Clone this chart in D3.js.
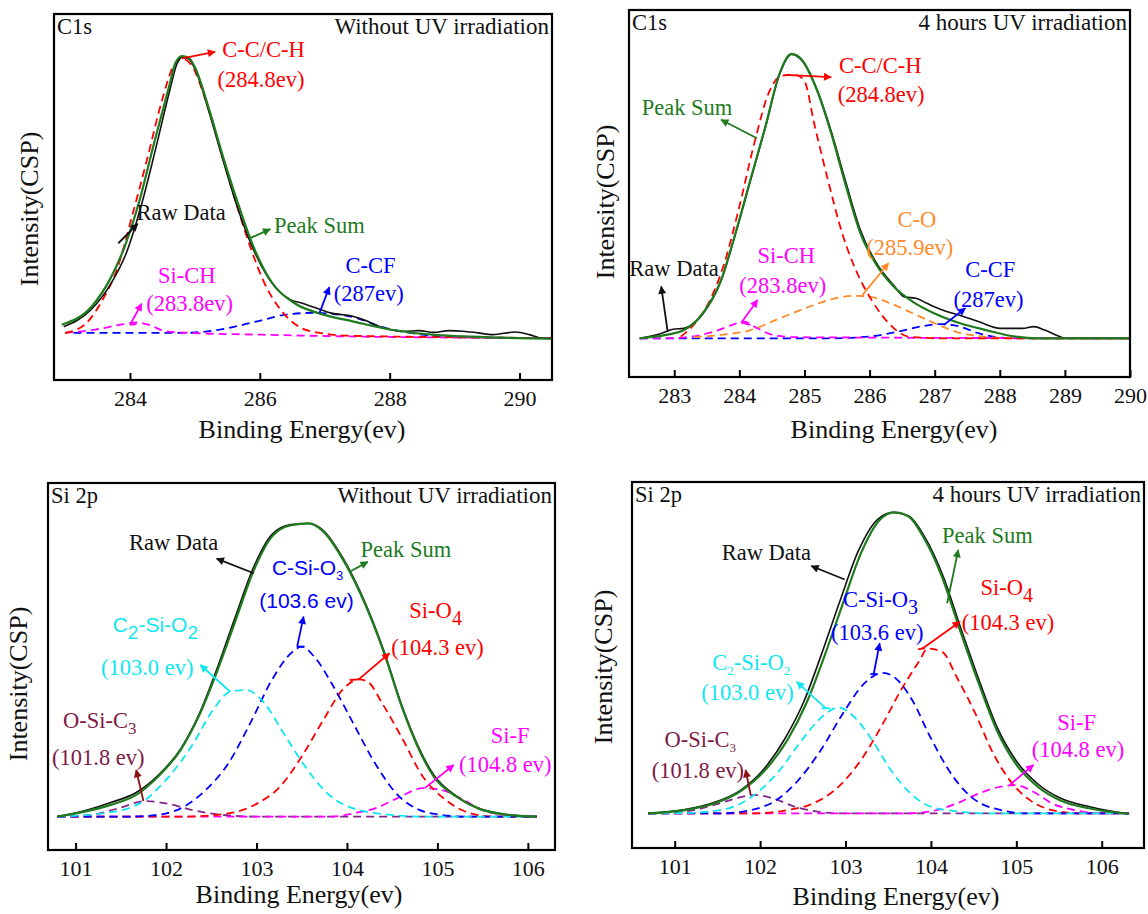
<!DOCTYPE html>
<html>
<head>
<meta charset="utf-8">
<script src="https://cdn.jsdelivr.net/npm/d3@7"></script>
<style>
  body { margin: 0; background: #fff; }
  svg { display: block; }
</style>
</head>
<body>
<div id="chart"></div>
<script>
// ---- C1s, without UV  ([binding energy, intensity])
var c1aRaw = [[282.98,4.0],[283.4,10.0],[283.7,19.0],[283.95,30.5],[284.18,47.5],[284.4,67.5],[284.62,88.5],[284.72,97],[284.8,99.6],[284.9,99],[285.0,95.5],[285.22,80],[285.44,62.5],[285.66,46],[285.88,32.5],[286.1,22.5],[286.3,16.5],[286.47,13.6],[286.64,12.4],[286.87,10.6],[287.09,8.9],[287.43,7.7],[287.66,5.9],[287.77,4.7],[288.0,3.0],[288.23,2.4],[288.45,2.6],[288.68,2.0],[288.91,2.6],[289.13,2.4],[289.36,1.8],[289.59,1.2],[289.93,2.1],[290.15,1.2],[290.32,0],[290.49,-0.2]];
var c1aSum = [[282.95,4.7],[283.41,11.2],[283.69,20.7],[283.92,32.5],[284.15,49],[284.37,69],[284.6,89],[284.7,97.5],[284.8,100],[284.9,99.5],[285.0,96],[285.22,81],[285.45,63],[285.68,46.6],[285.9,32.5],[286.19,19.5],[286.53,12.4],[286.98,8.3],[287.43,5.9],[288.0,3],[288.79,0.9],[290.49,-0.2]];
var c1aCC = [[283.0,1.8],[283.3,4.7],[283.58,13.6],[283.81,25],[284.03,43],[284.26,63],[284.49,84],[284.66,96],[284.8,99],[284.94,97],[285.17,84],[285.39,67],[285.62,49],[285.85,32.5],[286.07,19.5],[286.36,8.9],[286.64,3.5],[286.92,1.8],[287.38,0.8],[290.49,0]];
var c1aSiCH = [[283.0,1.8],[283.47,3.0],[283.86,4.7],[284.1,5.5],[284.3,4.6],[284.54,2.4],[284.94,1.8],[285.96,1.2],[287.5,0.5],[290.49,0]];
var c1aCCF = [[283.13,1.8],[284.83,1.8],[285.39,3.0],[285.96,5.9],[286.41,8.3],[286.81,8.9],[287.38,7.7],[287.94,3.5],[288.5,1.2],[289.2,0.2],[290.49,0]];

// ---- C1s, 4 hours UV
var c1bRaw = [[282.47,0],[282.81,1.8],[282.98,3.2],[283.15,3.5],[283.27,4.7],[283.44,8.6],[283.72,20.3],[283.94,36.7],[284.17,55.5],[284.4,74.2],[284.62,93],[284.8,99.8],[284.96,97.7],[285.19,87.6],[285.41,72.8],[285.64,54.5],[285.86,38],[286.09,27],[286.37,18.6],[286.54,14.5],[286.71,14.1],[286.88,12.3],[287.11,10],[287.45,7.6],[287.67,5.9],[288.01,3.5],[288.35,3.5],[288.52,4.1],[288.69,2.9],[288.92,0.6],[289.0,0],[290.0,0]];
var c1bSum = [[282.47,0],[282.87,1.2],[283.15,2.9],[283.44,8.8],[283.72,20.5],[283.94,36.9],[284.17,55.7],[284.4,74.4],[284.62,93.2],[284.8,100],[284.96,97.9],[285.19,87.3],[285.41,72.1],[285.64,53.3],[285.86,36.9],[286.09,26.4],[286.37,18.2],[286.66,12.9],[286.99,8.8],[287.39,5.3],[287.79,2.9],[288.24,0.6],[288.58,0],[290.0,0]];
var c1bCC = [[283.1,0.6],[283.32,5.3],[283.55,13.5],[283.77,26.4],[284.0,46.3],[284.23,68.6],[284.45,86.2],[284.65,92.3],[284.85,92.6],[284.99,90.9],[285.16,74.4],[285.36,55.7],[285.58,36.9],[285.81,22.9],[286.03,13.5],[286.32,4.7],[286.6,0.6],[287.1,0],[290.0,0]];
var c1bCO = [[283.3,0.4],[283.72,1.2],[284.17,2.9],[284.62,7],[285.07,11.1],[285.41,13.7],[285.75,14.9],[285.98,14.7],[286.32,12.3],[286.66,8.8],[287.0,5.3],[287.33,2.3],[287.67,0.8],[288.2,0],[290.0,0]];
var c1bSiCH = [[282.47,0],[282.87,0],[283.27,0.6],[283.6,2.3],[283.89,4.7],[284.06,5.9],[284.28,3.5],[284.51,1.2],[284.85,0.4],[290.0,0]];
var c1bCCF = [[282.47,0],[285.41,0],[285.98,0.6],[286.43,2.3],[286.82,4.3],[287.1,5.0],[287.39,4.1],[287.67,1.8],[287.95,0.4],[288.3,0],[290.0,0]];

// ---- Si 2p, without UV
var siaRaw = [[100.8,0],[101.1,2.0],[101.39,4.8],[101.67,8.2],[101.91,14.0],[102.16,23.0],[102.36,34.5],[102.57,51],[102.77,68.5],[102.97,85.2],[103.17,96.2],[103.38,99.6],[103.58,100],[103.74,97.6],[103.95,88.5],[104.15,76.5],[104.42,55.5],[104.6,38.5],[104.78,24.5],[104.96,14.2],[105.21,7.0],[105.45,2.9],[105.78,0.6],[106.1,0]];
var siaSum = [[100.8,0],[101.1,1.7],[101.39,4],[101.67,7.4],[101.91,13.6],[102.16,22.7],[102.36,34.1],[102.57,50],[102.77,67],[102.97,84],[103.17,95.5],[103.38,99.4],[103.58,100],[103.74,97.2],[103.95,88],[104.15,76],[104.42,55],[104.6,38],[104.78,24],[104.96,13.6],[105.21,6.8],[105.45,2.8],[105.78,0.6],[106.1,0]];
var siaC2SiO2 = [[100.8,0],[101.3,1.1],[101.71,4.5],[102.0,12.5],[102.28,23.9],[102.52,36.4],[102.71,42.6],[102.89,43.2],[103.09,38.6],[103.3,28.4],[103.54,17],[103.78,8],[104.07,2.8],[104.48,0.6],[104.8,0],[106.1,0]];
var siaCSiO3 = [[100.8,0],[101.59,0],[101.91,0.6],[102.2,3.4],[102.44,9.1],[102.69,18.2],[102.93,31.8],[103.17,46.6],[103.38,55.7],[103.5,58],[103.64,54.5],[103.83,45.5],[104.07,31.8],[104.31,18.2],[104.56,7.4],[104.8,2.3],[105.04,0.6],[105.3,0],[106.1,0]];
var siaSiO4 = [[100.8,0],[102.2,0],[102.69,1.1],[103.01,4.5],[103.26,10.2],[103.5,20.5],[103.74,33],[103.95,43.2],[104.13,46.8],[104.23,46],[104.39,38.6],[104.6,27.3],[104.84,13.6],[105.09,5.7],[105.37,1.1],[105.65,0],[106.1,0]];
var siaSiF = [[100.8,0],[103.84,0],[104.07,1.1],[104.31,2.8],[104.56,6.3],[104.84,9.7],[105.04,9.1],[105.29,5.7],[105.49,2.3],[105.74,0.6],[106.1,0]];
var siaOSiC3 = [[100.8,0],[101.18,0.6],[101.47,2.8],[101.77,5.3],[102.0,4.5],[102.28,2.3],[102.61,0.6],[103.0,0],[106.1,0]];

// ---- Si 2p, 4 hours UV
var sibRaw = [[100.69,0],[101.12,1.3],[101.46,3.6],[101.76,7.5],[102.04,14.6],[102.29,24.8],[102.51,37],[102.72,53],[102.94,71],[103.15,87.2],[103.38,97.8],[103.56,100],[103.74,98.8],[103.92,92.2],[104.14,79],[104.35,61.5],[104.57,43.8],[104.78,28.3],[105.0,17.4],[105.26,9.6],[105.52,5],[105.86,2.2],[106.32,-0.2]];
var sibSum = [[100.69,0],[101.12,1.1],[101.46,3.3],[101.76,7.2],[102.06,14.4],[102.32,24.4],[102.54,36.5],[102.75,52],[102.97,69.8],[103.18,86.4],[103.4,97.5],[103.57,100],[103.74,98.6],[103.91,91.9],[104.13,78.6],[104.34,60.9],[104.56,43.2],[104.77,27.7],[104.99,16.6],[105.25,8.9],[105.51,4.4],[105.85,1.7],[106.32,-0.2]];
var sibC2SiO2 = [[100.69,0],[101.2,0.2],[101.63,1.7],[101.93,6.1],[102.23,14.4],[102.49,24.4],[102.75,32.7],[102.92,35.2],[103.1,32.1],[103.31,24.4],[103.53,14.4],[103.74,7.2],[104.0,2.2],[104.34,0.6],[104.65,0],[106.32,0]];
var sibCSiO3 = [[100.69,0],[101.55,0],[101.89,1.1],[102.19,4.4],[102.45,11.1],[102.71,21],[102.97,33.2],[103.22,43.2],[103.44,46.7],[103.61,44.3],[103.78,37.7],[103.99,25.5],[104.26,12.2],[104.52,4.4],[104.82,1.1],[105.12,0],[106.32,0]];
var sibSiO4 = [[100.69,0],[101.9,0],[102.32,1.1],[102.62,3.3],[102.92,8.9],[103.18,17.7],[103.44,29.9],[103.65,41],[103.87,50.9],[103.96,54.8],[104.13,53.7],[104.3,45.4],[104.52,33.2],[104.73,19.9],[104.95,10],[105.16,4.4],[105.42,1.1],[105.76,0],[106.32,0]];
var sibSiF = [[100.69,0],[103.7,0],[104.04,0.9],[104.3,3.3],[104.56,6.6],[104.82,8.9],[104.99,9.4],[105.2,7.2],[105.42,3.3],[105.68,1.1],[105.98,0],[106.32,0]];
var sibOSiC3 = [[100.69,0],[101.12,0.6],[101.46,2.8],[101.72,5],[101.93,6.1],[102.15,5],[102.41,2.2],[102.67,0.6],[102.93,0],[106.32,0]];

// tick labels
var c1aTicks = [284, 286, 288, 290];
var c1bTicks = [283, 284, 285, 286, 287, 288, 289, 290];
var siTicks = [101, 102, 103, 104, 105, 106];

var RED = "#ff0000", BLUE = "#0000ff", MAG = "#ff00ff", GREEN = "#1e7b1e",
    ORANGE = "#ff8a2a", CYAN = "#10e6f0", PURPLE = "#82288a", WINE = "#7e1a44",
    WINE_ARROW = "#8b1010", BLACK = "#111";
var SERIF = "'Liberation Serif','Times New Roman',serif";
var SANS = "'Liberation Sans',Arial,sans-serif";
var LABEL_SIZE = 22.5;

var panels = [
  {
    left: 54, right: 552, top: 14, bottom: 380,
    xDomain: [282.83, 290.5], yDomain: [-14.9, 114.9], ticks: c1aTicks,
    corner: "C1s", cond: "Without UV irradiation",
    titleX: 302, titleY: 438, ylabX: 38, ylabY: 209,
    dashed: [[c1aCCF, BLUE], [c1aSiCH, MAG], [c1aCC, RED]],
    raw: c1aRaw, sum: c1aSum,
    notes: [
      {t: [["C-C/C-H"]], c: RED, at: [285.42, 99.5]},
      {t: [["(284.8ev)"]], c: RED, at: [285.35, 88.9]},
      {t: [["Raw Data"]], c: BLACK, at: [284.1, 41.9]},
      {t: [["Peak Sum"]], c: GREEN, at: [286.22, 37.2]},
      {t: [["Si-CH"]], c: MAG, at: [284.43, 19.5]},
      {t: [["(283.8ev)"]], c: MAG, at: [284.25, 9.4]},
      {t: [["C-CF"]], c: BLUE, at: [287.32, 23]},
      {t: [["(287ev)"]], c: BLUE, at: [287.14, 13]}
    ],
    arrows: [
      {c: RED, from: [284.8, 99.2], to: [285.31, 101.5]},
      {c: BLACK, from: [283.82, 33.6], to: [284.12, 40.5]},
      {c: GREEN, from: [285.85, 35.4], to: [286.16, 38.6]},
      {c: MAG, from: [284.0, 4.7], to: [284.18, 12.2], tail: [[284.0, 4.7], [284.1, 4.9]]},
      {c: BLUE, from: [286.92, 8.9], to: [287.07, 18]}
    ]
  },
  {
    left: 629, right: 1130, top: 10, bottom: 377,
    xDomain: [282.305, 290.0], yDomain: [-13.6, 115.4], ticks: c1bTicks,
    corner: "C1s", cond: "4 hours UV irradiation",
    titleX: 894, titleY: 438, ylabX: 614, ylabY: 202,
    dashed: [[c1bCCF, BLUE], [c1bSiCH, MAG], [c1bCO, ORANGE], [c1bCC, RED]],
    raw: c1bRaw, sum: c1bSum,
    notes: [
      {t: [["C-C/C-H"]], c: RED, at: [285.53, 93.2]},
      {t: [["(284.8ev)"]], c: RED, at: [285.51, 83.2]},
      {t: [["Peak Sum"]], c: GREEN, at: [282.5, 78.5]},
      {t: [["Raw Data"]], c: BLACK, at: [282.31, 22]},
      {t: [["C-O"]], c: ORANGE, at: [286.43, 39.3]},
      {t: [["(285.9ev)"]], c: ORANGE, at: [285.95, 29.3]},
      {t: [["Si-CH"]], c: MAG, at: [284.28, 26.4]},
      {t: [["(283.8ev)"]], c: MAG, at: [284.0, 15.8]},
      {t: [["C-CF"]], c: BLUE, at: [287.47, 21.7]},
      {t: [["(287ev)"]], c: BLUE, at: [287.29, 11.1]}
    ],
    arrows: [
      {c: RED, from: [284.71, 92.6], to: [285.41, 91.8]},
      {c: GREEN, from: [284.27, 70.3], to: [283.72, 76.8]},
      {c: BLACK, from: [282.9, 2.3], to: [282.8, 18.2]},
      {c: ORANGE, from: [285.89, 15.2], to: [286.29, 26.4]},
      {c: MAG, from: [284.03, 5.5], to: [284.28, 13.5], tail: [[284.03, 5.5], [284.17, 4.7]]},
      {c: BLUE, from: [287.14, 4.7], to: [287.47, 10.6]}
    ]
  },
  {
    left: 48, right: 555, top: 483, bottom: 850,
    xDomain: [100.695, 106.3], yDomain: [-11.4, 113.8], ticks: siTicks,
    corner: "Si 2p", cond: "Without UV irradiation",
    titleX: 299, titleY: 903, ylabX: 27, ylabY: 684,
    dashed: [[siaOSiC3, PURPLE], [siaSiF, MAG], [siaSiO4, RED], [siaCSiO3, BLUE], [siaC2SiO2, CYAN]],
    raw: siaRaw, sum: siaSum,
    notes: [
      {t: [["Raw Data"]], c: BLACK, at: [101.59, 90.9]},
      {t: [["Peak Sum"]], c: GREEN, at: [104.15, 88.4]},
      {t: [["C-Si-O"], ["3", 13]], c: BLUE, at: [103.17, 82.4], f: SANS, size: 21},
      {t: [["(103.6 ev)"]], c: BLUE, at: [103.03, 71], f: SANS, size: 21},
      {t: [["C"], ["2", 19], ["-Si-O"], ["2", 19]], c: CYAN, at: [101.41, 63.1], f: SANS, size: 21},
      {t: [["(103.0 ev)"]], c: CYAN, at: [101.28, 48.3]},
      {t: [["Si-O"], ["4", 20]], c: RED, at: [104.69, 67.6]},
      {t: [["(104.3 ev)"]], c: RED, at: [104.49, 55.1]},
      {t: [["O-Si-C"], ["3", 17]], c: WINE, at: [100.86, 30.1]},
      {t: [["(101.8 ev)"]], c: WINE, at: [100.74, 17.6]},
      {t: [["Si-F"]], c: MAG, at: [105.59, 25]},
      {t: [["(104.8 ev)"]], c: MAG, at: [105.24, 15.3]}
    ],
    arrows: [
      {c: BLACK, from: [102.97, 83], to: [102.56, 88]},
      {c: GREEN, from: [104.03, 83.5], to: [104.23, 86.9]},
      {c: BLUE, from: [103.45, 58], to: [103.52, 68.2], tail: [[103.45, 58], [103.53, 58]]},
      {c: CYAN, from: [102.71, 42.6], to: [102.38, 51.7]},
      {c: RED, from: [104.13, 46.8], to: [104.47, 55.7], tail: [[104.03, 46.6], [104.13, 46.8]]},
      {c: WINE_ARROW, from: [101.75, 5.3], to: [101.67, 15.9]},
      {c: MAG, from: [104.86, 9.7], to: [105.18, 17.6]}
    ]
  },
  {
    left: 632, right: 1144, top: 482, bottom: 848,
    xDomain: [100.5, 106.495], yDomain: [-11.5, 110.1], ticks: siTicks,
    corner: "Si 2p", cond: "4 hours UV irradiation",
    titleX: 896, titleY: 905, ylabX: 612, ylabY: 667,
    dashed: [[sibOSiC3, PURPLE], [sibSiF, MAG], [sibSiO4, RED], [sibCSiO3, BLUE], [sibC2SiO2, CYAN]],
    raw: sibRaw, sum: sibSum,
    notes: [
      {t: [["Raw Data"]], c: BLACK, at: [101.55, 84.2]},
      {t: [["Peak Sum"]], c: GREEN, at: [104.13, 89.9]},
      {t: [["C-Si-O"], ["3", 20]], c: BLUE, at: [102.97, 68.7]},
      {t: [["(103.6 ev)"]], c: BLUE, at: [102.83, 57.6]},
      {t: [["Si-O"], ["4", 20]], c: RED, at: [104.58, 72.5]},
      {t: [["(104.3 ev)"]], c: RED, at: [104.36, 60.9]},
      {t: [["C"], ["2", 13], ["-Si-O"], ["2", 13]], c: CYAN, at: [101.44, 47.6]},
      {t: [["(103.0 ev)"]], c: CYAN, at: [101.31, 37.7]},
      {t: [["O-Si-C"], ["3", 13]], c: WINE, at: [100.88, 22.1]},
      {t: [["(101.8 ev)"]], c: WINE, at: [100.73, 11.6]},
      {t: [["Si-F"]], c: MAG, at: [105.48, 27.7]},
      {t: [["(104.8 ev)"]], c: MAG, at: [105.18, 18.8]}
    ],
    arrows: [
      {c: BLACK, from: [102.99, 77.7], to: [102.6, 82.2]},
      {c: GREEN, from: [104.19, 69.8], to: [104.32, 87.5]},
      {c: BLUE, from: [103.33, 46.3], to: [103.4, 56.5], tail: [[103.29, 46.3], [103.37, 46.3]]},
      {c: RED, from: [103.89, 54.5], to: [104.34, 63.7], tail: [[103.85, 54.5], [103.93, 55]]},
      {c: CYAN, from: [102.77, 34.9], to: [102.43, 43.7], tail: [[102.72, 34.9], [102.82, 34.9]]},
      {c: WINE_ARROW, from: [101.89, 6.1], to: [101.83, 14.4]},
      {c: MAG, from: [104.92, 9.4], to: [105.2, 16.1]}
    ]
  }
];

var svg = d3.select("#chart").append("svg")
  .attr("width", 1148)
  .attr("height", 914);

var defs = svg.append("defs");

// one arrowhead marker per colour
function markerId(color) {
  var id = "arr" + color.replace("#", "");
  if (defs.select("#" + id).empty()) {
    defs.append("marker")
      .attr("id", id)
      .attr("viewBox", "0 0 10 10")
      .attr("refX", 9).attr("refY", 5)
      .attr("markerUnits", "userSpaceOnUse")
      .attr("markerWidth", 10).attr("markerHeight", 8)
      .attr("orient", "auto")
      .append("path")
      .attr("d", "M0,0 L10,5 L0,10 Z")
      .attr("fill", color);
  }
  return "url(#" + id + ")";
}

function drawPanel(p, i) {
  var w = p.right - p.left, h = p.bottom - p.top;
  var g = svg.append("g").attr("transform", `translate(${p.left}, ${p.top})`);

  var x = d3.scaleLinear().domain(p.xDomain).range([0, w]);
  var y = d3.scaleLinear().domain(p.yDomain).range([h, 0]);

  defs.append("clipPath").attr("id", "clip" + i)
    .append("rect").attr("width", w).attr("height", h);

  var line = d3.line()
    .x(d => x(d[0]))
    .y(d => y(d[1]))
    .curve(d3.curveMonotoneX);

  var plot = g.append("g").attr("clip-path", `url(#clip${i})`);

  // fitted components
  p.dashed.forEach(function (s) {
    plot.append("path")
      .attr("d", line(s[0]))
      .attr("fill", "none")
      .attr("stroke", s[1])
      .attr("stroke-width", 1.8)
      .attr("stroke-dasharray", "8,5");
  });

  // raw data and peak sum
  plot.append("path").attr("d", line(p.raw))
    .attr("fill", "none").attr("stroke", BLACK).attr("stroke-width", 1.6);
  plot.append("path").attr("d", line(p.sum))
    .attr("fill", "none").attr("stroke", GREEN).attr("stroke-width", 2.2);

  // x axis with inward ticks
  var xAxis = d3.axisBottom(x)
    .tickValues(p.ticks)
    .tickSizeInner(-7)
    .tickSizeOuter(0)
    .tickFormat(d3.format("d"));

  var axg = g.append("g")
    .attr("transform", `translate(0, ${h})`)
    .call(xAxis);
  axg.select(".domain").remove();
  axg.selectAll(".tick line").attr("stroke", "#000").attr("stroke-width", 2);
  axg.selectAll(".tick text")
    .attr("y", 26).attr("dy", 0)
    .attr("fill", "#111")
    .style("font-family", SERIF)
    .style("font-size", "22px");

  // frame
  g.append("rect")
    .attr("width", w).attr("height", h)
    .attr("fill", "none").attr("stroke", "#000").attr("stroke-width", 2.2);

  // corner labels
  g.append("text").attr("x", 3).attr("y", 20)
    .style("font-family", SERIF).style("font-size", LABEL_SIZE + "px").attr("fill", "#111")
    .text(p.corner);
  g.append("text").attr("x", w - 3).attr("y", 20).attr("text-anchor", "end")
    .style("font-family", SERIF).style("font-size", "23px").attr("fill", "#111")
    .text(p.cond);

  // axis titles
  svg.append("text")
    .attr("x", p.titleX).attr("y", p.titleY).attr("text-anchor", "middle")
    .style("font-family", SERIF).style("font-size", "26px").attr("fill", "#111")
    .text("Binding Energy(ev)");
  svg.append("text")
    .attr("transform", `translate(${p.ylabX}, ${p.ylabY}) rotate(-90)`)
    .attr("text-anchor", "middle")
    .style("font-family", SERIF).style("font-size", "26px").attr("fill", "#111")
    .text("Intensity(CSP)");

  // annotation arrows
  p.arrows.forEach(function (a) {
    if (a.tail) {
      g.append("line")
        .attr("x1", x(a.tail[0][0])).attr("y1", y(a.tail[0][1]))
        .attr("x2", x(a.tail[1][0])).attr("y2", y(a.tail[1][1]))
        .attr("stroke", a.c).attr("stroke-width", 1.8);
    }
    g.append("line")
      .attr("x1", x(a.from[0])).attr("y1", y(a.from[1]))
      .attr("x2", x(a.to[0])).attr("y2", y(a.to[1]))
      .attr("stroke", a.c).attr("stroke-width", 1.8)
      .attr("marker-end", markerId(a.c));
  });

  // annotation labels (parts with a size are subscripts)
  p.notes.forEach(function (n) {
    var size = n.size || LABEL_SIZE;
    var t = g.append("text")
      .attr("x", x(n.at[0])).attr("y", y(n.at[1]))
      .attr("fill", n.c)
      .style("font-family", n.f || SERIF)
      .style("font-size", size + "px");
    var shifted = 0;
    n.t.forEach(function (part) {
      var ts = t.append("tspan").text(part[0]);
      if (part.length > 1) {
        var dy = Math.round(part[1] * 0.35);
        ts.style("font-size", part[1] + "px").attr("dy", dy - shifted);
        shifted = dy;
      } else if (shifted) {
        ts.attr("dy", -shifted);
        shifted = 0;
      }
    });
  });
}

panels.forEach(drawPanel);
</script>
</body>
</html>
